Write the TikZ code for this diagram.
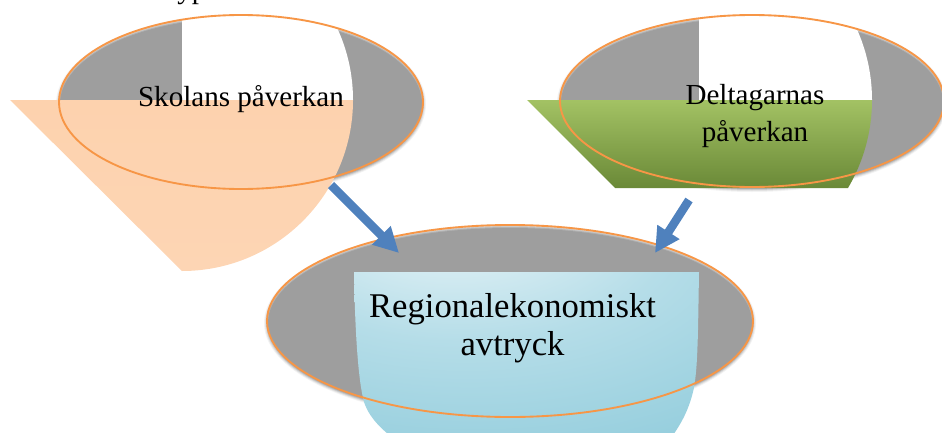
\documentclass[tikz,border=0pt]{standalone}
\usepackage{fontspec}
\setmainfont{Liberation Serif}
\usetikzlibrary{arrows.meta}
\definecolor{shadegray}{HTML}{9E9E9E}
\definecolor{orangeline}{HTML}{F79646}
\definecolor{peachA}{HTML}{FDD2AE}
\definecolor{peachB}{HTML}{F9B576}
\definecolor{peachC}{HTML}{FDD5B4}
\definecolor{greenA}{HTML}{A3C264}
\definecolor{greenB}{HTML}{6A8937}
\definecolor{arrowblue}{HTML}{4F81BD}
\definecolor{blueA}{HTML}{F0F8FA}
\definecolor{blueB}{HTML}{B5DDE8}
\definecolor{blueC}{HTML}{86C7D8}
\definecolor{blueD}{HTML}{70BCD0}
\pgfdeclareradialshading{bluebowl}{\pgfpoint{-12bp}{45bp}}{color(0bp)=(blueA); color(30bp)=(blueB); color(70bp)=(blueC); color(100bp)=(blueD); color(130bp)=(blueD)}
\tikzset{
  rimline/.style={draw=orangeline, line width=1.4pt},
  bigarrow/.style={draw=arrowblue, line width=6.4pt, -{Triangle[length=18.75pt,width=18.5pt]}},
  labeltext/.style={inner sep=0pt, align=center, text=black},
  smalllabel/.style={labeltext, font=\fontsize{21.8}{27.75}\selectfont},
  biglabel/.style={labeltext, font=\fontsize{26}{28.5}\selectfont},
}
\begin{document}
\begin{tikzpicture}[x=0.75pt,y=-0.75pt]
\useasboundingbox (0,0) rectangle (942,432);

% ellipse centres
\coordinate (e1) at (241,102);
\coordinate (e2) at (752,101);
\coordinate (e3) at (510,321);

% soft gray ellipses
\foreach \c/\rx/\ry in {e1/182/87, e2/192/86, e3/243/96}{
  \foreach \d/\p in {4/12, 3/30, 2/55, 1/80, 0/100}{
    \fill[shadegray!\p] ([yshift=-1.5pt]\c) ellipse [x radius={(\rx+\d-1)*0.75pt}, y radius={(\ry+\d-1)*0.75pt}];
  }
}

% left shape: white quarter + peach bowl
\fill[white] (182,100) -- (353,100) .. controls (353,5.56) and (276.44,-71) .. (182,-71) -- cycle;
\shade[top color=peachA, middle color=peachB, bottom color=peachC]
  (10,100) -- (353,100) .. controls (353,194.44) and (276.44,271) .. (182,271) -- cycle;

% right shape: white quarter + green
\fill[white] (699,100) -- (872,100) .. controls (872,4.45) and (794.55,-73) .. (699,-73) -- cycle;
\shade[top color=greenA, bottom color=greenB]
  (527,100) -- (872,100) .. controls (872,130.95) and (863.7,161.4) .. (848,188) -- (615,188) -- cycle;

% bottom shape: blue bowl
\shade[shading=bluebowl]
  (354,272) -- (699,272) .. controls (698,330) and (698,372) .. (693,392)
  .. controls (688,412) and (680,426) .. (668,442) -- (398,442)
  .. controls (385,432) and (370,420) .. (364,402)
  .. controls (358,380) and (355,330) .. cycle;

% orange rims
\draw[rimline] (e1) ellipse [x radius=136.5pt, y radius=65.25pt];
\draw[rimline] (e2) ellipse [x radius=144pt, y radius=64.5pt];
\draw[rimline] (e3) ellipse [x radius=182.25pt, y radius=72pt];

% arrows
\coordinate (a1s) at (331,185);
\coordinate (a1e) at (399,253);
\coordinate (a2s) at (689,200);
\coordinate (a2e) at (655,253);
\draw[bigarrow] (a1s) -- (a1e);
\draw[bigarrow] (a2s) -- (a2e);

% texts (base anchor = baseline of the last line)
\node[smalllabel, anchor=base] (t1) at (241,106) {Skolans påverkan};
\node[smalllabel, anchor=base] (t2) at (755,141) {Deltagarnas\\påverkan};
\node[biglabel, anchor=base] (t3) at (512.5,355) {Regionalekonomiskt\\avtryck};
\node[smalllabel, anchor=base west] (t0) at (177,-2) {yp};
\end{tikzpicture}
\end{document}
